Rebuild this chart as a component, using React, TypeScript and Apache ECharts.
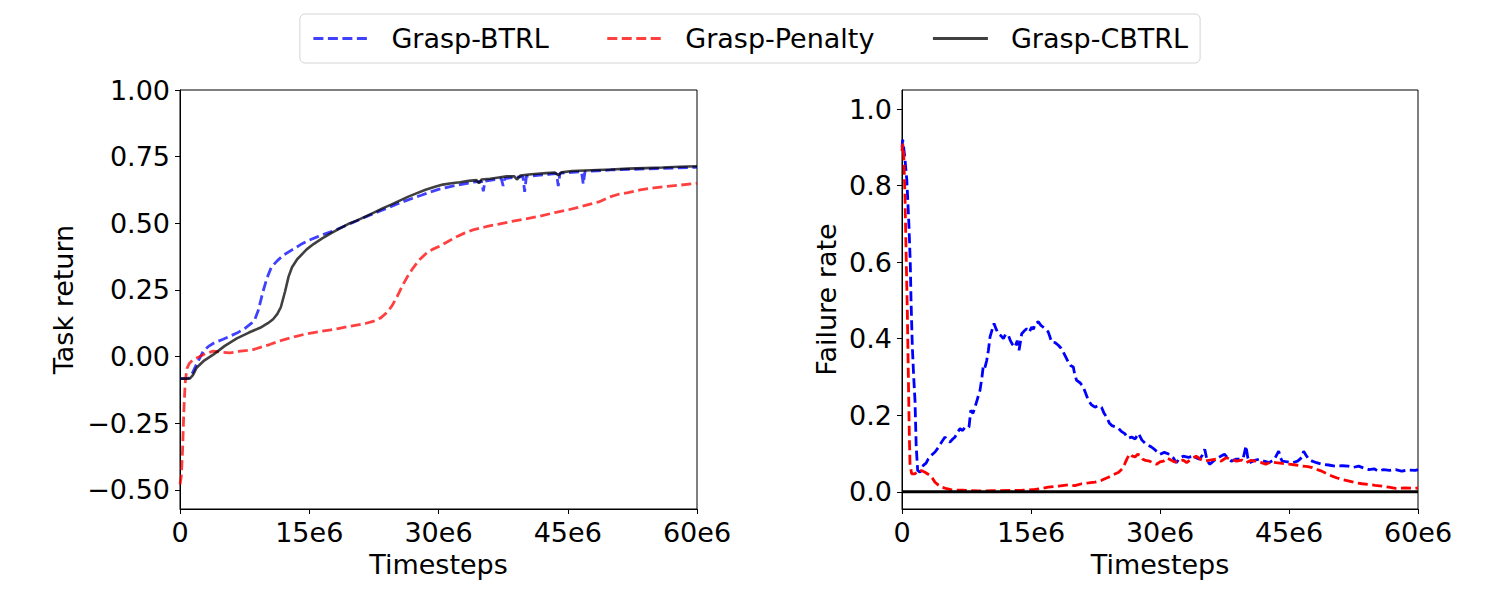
import React, { useEffect, useRef } from "react";
import * as echarts from "echarts";

const seriesNames = ["Grasp-BTRL", "Grasp-Penalty", "Grasp-CBTRL"];
const xTicks = [0, 15, 30, 45, 60];
const leftYTicks = [-0.5, -0.25, 0, 0.25, 0.5, 0.75, 1.0];
const rightYTicks = [0, 0.2, 0.4, 0.6, 0.8, 1.0];

// Task return (x in units of 1e6 timesteps)
const leftBtrl: [number, number][] = [
  [0, -0.083], [1.0, -0.082], [1.4, -0.065], [1.9, -0.03], [2.3, -0.005], [2.7, 0.02], [3.3, 0.038], [3.9, 0.05],
  [5.0, 0.065], [6.6, 0.088], [7.5, 0.105], [8.3, 0.125], [8.7, 0.14], [9.1, 0.175], [9.6, 0.24], [10.1, 0.295],
  [10.6, 0.335], [11.3, 0.36], [12.0, 0.38], [13.0, 0.4], [14.0, 0.42], [15.0, 0.437], [16.0, 0.45], [17.0, 0.462],
  [18.0, 0.474], [19.0, 0.488], [20.0, 0.502], [21.0, 0.516], [22.0, 0.53], [23.0, 0.543], [24.0, 0.556], [25.0, 0.57],
  [26.0, 0.582], [27.0, 0.594], [28.0, 0.605], [29.0, 0.617], [30.0, 0.627], [31.0, 0.635], [32.0, 0.642], [33.0, 0.648],
  [34.0, 0.654], [35.0, 0.657], [35.2, 0.62], [35.4, 0.658], [36.5, 0.664], [37.3, 0.667], [37.5, 0.64], [37.7, 0.668],
  [39.0, 0.673], [39.8, 0.675], [40.0, 0.618], [40.2, 0.676], [41.5, 0.68], [43.0, 0.684], [43.7, 0.686], [43.9, 0.64],
  [44.1, 0.688], [45.5, 0.691], [46.6, 0.693], [46.8, 0.647], [47.0, 0.694], [48.5, 0.697], [50, 0.7], [52, 0.702],
  [54, 0.704], [56, 0.706], [58, 0.708], [60, 0.71],
];
const leftPenalty: [number, number][] = [
  [0, -0.48], [0.15, -0.45], [0.3, -0.35], [0.45, -0.2], [0.6, -0.1], [0.8, -0.045], [1.1, -0.025], [1.6, -0.01],
  [2.3, 0.0], [3.0, 0.012], [3.9, 0.02], [4.8, 0.016], [5.8, 0.014], [6.8, 0.019], [7.8, 0.023], [8.5, 0.026],
  [9.5, 0.036], [10.4, 0.045], [11.5, 0.058], [12.5, 0.067], [13.5, 0.076], [14.5, 0.084], [15.5, 0.09], [16.5, 0.095],
  [17.5, 0.1], [18.5, 0.106], [19.5, 0.112], [20.5, 0.118], [21.5, 0.124], [22.5, 0.133], [23.3, 0.145], [24.0, 0.165],
  [24.6, 0.19], [25.2, 0.225], [25.8, 0.265], [26.4, 0.3], [27.0, 0.33], [27.7, 0.36], [28.5, 0.385], [29.3, 0.402],
  [30.2, 0.415], [31.0, 0.43], [32.0, 0.448], [33.0, 0.463], [34.0, 0.475], [35.5, 0.487], [37.0, 0.497], [38.5, 0.507],
  [40.0, 0.516], [41.8, 0.527], [43.5, 0.54], [45.0, 0.55], [46.5, 0.562], [47.6, 0.572], [48.6, 0.58], [49.3, 0.59],
  [50.0, 0.6], [50.8, 0.608], [52.0, 0.615], [53.4, 0.625], [55.0, 0.633], [56.5, 0.638], [58.0, 0.643], [60, 0.65],
];
const leftCbtrl: [number, number][] = [
  [0, -0.083], [0.6, -0.083], [1.16, -0.082], [1.5, -0.07], [1.93, -0.042], [2.8, -0.015], [3.9, 0.008], [5.2, 0.04],
  [6.6, 0.068], [8.0, 0.09], [9.3, 0.108], [10.2, 0.125], [10.8, 0.14], [11.3, 0.16], [11.7, 0.185], [12.2, 0.245],
  [12.6, 0.3], [13.0, 0.335], [13.6, 0.365], [14.7, 0.402], [15.5, 0.422], [16.5, 0.443], [17.5, 0.462], [18.5, 0.48],
  [19.5, 0.497], [20.5, 0.51], [21.5, 0.525], [22.5, 0.54], [23.5, 0.556], [24.5, 0.57], [25.5, 0.585], [26.5, 0.6],
  [27.5, 0.613], [28.5, 0.626], [29.5, 0.636], [30.5, 0.645], [31.5, 0.65], [32.5, 0.654], [33.5, 0.659], [34.4, 0.662],
  [34.7, 0.65], [35.0, 0.664], [36.0, 0.667], [37.0, 0.672], [37.9, 0.676], [38.8, 0.676], [39.1, 0.664], [39.5, 0.679],
  [40.5, 0.683], [41.5, 0.686], [42.5, 0.688], [43.5, 0.69], [43.9, 0.68], [44.3, 0.691], [45.5, 0.696], [47, 0.698],
  [48.5, 0.7], [50, 0.702], [52, 0.705], [54, 0.707], [56, 0.709], [58, 0.712], [60, 0.714],
];

// Failure rate
const rightBtrl: [number, number][] = [
  [0, 0.9], [0.08, 0.92], [0.3, 0.88], [0.56, 0.815], [0.8, 0.7], [0.96, 0.6], [1.05, 0.5], [1.2, 0.38], [1.36, 0.3],
  [1.51, 0.239], [1.65, 0.12], [1.82, 0.056], [2.09, 0.051], [2.48, 0.069], [2.8, 0.075], [3.06, 0.086], [3.4, 0.095],
  [3.84, 0.104], [4.2, 0.115], [4.61, 0.13], [5.0, 0.143], [5.3, 0.135], [5.58, 0.13], [5.9, 0.138], [6.16, 0.143],
  [6.45, 0.155], [6.75, 0.165], [7.05, 0.16], [7.33, 0.169], [7.79, 0.169], [8.0, 0.213], [8.25, 0.205], [8.49, 0.221],
  [8.8, 0.245], [9.07, 0.265], [9.3, 0.3], [9.46, 0.33], [9.65, 0.325], [9.85, 0.343], [10.05, 0.37], [10.24, 0.405],
  [10.5, 0.425], [10.7, 0.44], [10.95, 0.425], [11.2, 0.413], [11.5, 0.408], [11.79, 0.4], [12.05, 0.412], [12.37, 0.409],
  [12.6, 0.395], [12.85, 0.385], [13.14, 0.378], [13.4, 0.395], [13.61, 0.37], [13.92, 0.413], [14.2, 0.42], [14.5, 0.426],
  [14.8, 0.418], [15.08, 0.43], [15.3, 0.425], [15.47, 0.44], [15.86, 0.444], [16.15, 0.435], [16.44, 0.43], [16.7, 0.425],
  [17.0, 0.418], [17.2, 0.405], [17.4, 0.391], [17.8, 0.39], [18.18, 0.383], [18.5, 0.375], [18.76, 0.365], [19.05, 0.352],
  [19.34, 0.339], [19.6, 0.33], [19.92, 0.326], [20.1, 0.305], [20.31, 0.291], [20.7, 0.285], [21.08, 0.274], [21.4, 0.255],
  [21.67, 0.239], [22.0, 0.228], [22.44, 0.221], [22.8, 0.225], [23.2, 0.221], [23.5, 0.205], [23.8, 0.195], [24.1, 0.18],
  [24.4, 0.173], [24.8, 0.17], [25.2, 0.165], [25.5, 0.158], [25.9, 0.152], [26.3, 0.14], [26.7, 0.143], [27.1, 0.138],
  [27.5, 0.152], [27.9, 0.135], [28.3, 0.126], [28.6, 0.122], [29.0, 0.117], [29.4, 0.11], [30.0, 0.098], [30.5, 0.103],
  [31.1, 0.098], [31.5, 0.09], [31.9, 0.076], [32.3, 0.088], [32.7, 0.093], [33.3, 0.09], [33.9, 0.093], [34.3, 0.088],
  [34.6, 0.085], [34.9, 0.095], [35.2, 0.111], [35.5, 0.08], [35.8, 0.072], [36.2, 0.08], [36.5, 0.085], [37.0, 0.092],
  [37.5, 0.098], [37.9, 0.088], [38.3, 0.08], [38.8, 0.085], [39.3, 0.085], [39.7, 0.09], [40.0, 0.12], [40.2, 0.09],
  [40.4, 0.076], [41.0, 0.082], [41.5, 0.085], [42.1, 0.08], [42.7, 0.076], [43.3, 0.085], [43.8, 0.106], [44.0, 0.09],
  [44.2, 0.08], [44.8, 0.078], [45.4, 0.076], [46.0, 0.08], [46.5, 0.09], [46.7, 0.106], [47.0, 0.095], [47.3, 0.085],
  [47.7, 0.08], [48.2, 0.076], [48.8, 0.072], [49.6, 0.07], [50.4, 0.067], [51.2, 0.068], [51.9, 0.067], [52.5, 0.064],
  [53.1, 0.067], [53.7, 0.062], [54.3, 0.058], [54.9, 0.06], [55.4, 0.054], [56.0, 0.058], [56.7, 0.056], [57.4, 0.058],
  [58.1, 0.054], [58.9, 0.057], [59.7, 0.056], [60, 0.058],
];
const rightPenalty: [number, number][] = [
  [0, 0.89], [0.08, 0.91], [0.2, 0.88], [0.35, 0.77], [0.5, 0.6], [0.62, 0.47], [0.74, 0.3], [0.85, 0.15], [0.93, 0.073],
  [1.12, 0.047], [1.51, 0.047], [1.9, 0.056], [2.3, 0.055], [2.67, 0.051], [3.26, 0.043], [3.55, 0.035], [3.84, 0.025],
  [4.2, 0.018], [4.61, 0.012], [5.2, 0.008], [5.78, 0.005], [7, 0.004], [8.88, 0.002], [10.5, 0.003], [12.76, 0.0035],
  [14, 0.004], [15.47, 0.006], [16.3, 0.009], [17.0, 0.012], [18.2, 0.015], [19.34, 0.018], [20.1, 0.016], [20.9, 0.021],
  [21.7, 0.023], [22.44, 0.025], [23.2, 0.03], [24.0, 0.038], [24.6, 0.045], [25.2, 0.051], [25.6, 0.06], [25.9, 0.073],
  [26.2, 0.088], [26.5, 0.099], [26.8, 0.093], [27.1, 0.091], [27.4, 0.098], [27.7, 0.095], [28.0, 0.085], [28.3, 0.082],
  [28.8, 0.08], [29.2, 0.075], [29.6, 0.072], [30.0, 0.078], [30.4, 0.08], [30.8, 0.088], [31.1, 0.085], [31.7, 0.078],
  [32.3, 0.08], [32.7, 0.083], [33.1, 0.076], [33.6, 0.085], [34.2, 0.093], [34.7, 0.085], [35.2, 0.08], [35.8, 0.083],
  [36.5, 0.085], [37.1, 0.08], [37.7, 0.089], [38.3, 0.085], [38.9, 0.08], [39.5, 0.083], [40.0, 0.076], [40.6, 0.082],
  [41.1, 0.08], [41.7, 0.077], [42.3, 0.072], [42.9, 0.078], [43.5, 0.076], [44.2, 0.074], [45.0, 0.072], [45.8, 0.07],
  [46.6, 0.067], [47.2, 0.066], [47.7, 0.063], [48.3, 0.058], [48.8, 0.054], [49.4, 0.047], [50.0, 0.041], [50.6, 0.036],
  [51.2, 0.032], [52.0, 0.028], [52.7, 0.024], [53.5, 0.021], [54.3, 0.019], [55.0, 0.017], [55.8, 0.015], [56.6, 0.012],
  [57.4, 0.009], [58.5, 0.01], [59.7, 0.009], [60, 0.01],
];
const rightCbtrl: [number, number][] = [
  [0, 0], [60, 0],
];

const FONT = "DejaVu Sans";
const DASH = [10, 4.5];

function makeXAxis(gridIndex: number) {
  return {
    type: "value",
    gridIndex,
    min: 0,
    max: 60,
    interval: 15,
    name: "Timesteps",
    nameLocation: "middle",
    nameGap: 42,
    nameTextStyle: { fontSize: 27, fontFamily: FONT, color: "#000" },
    axisLine: { show: true, onZero: false, lineStyle: { color: "#000", width: 1 } },
    axisTick: { show: true, length: 5, lineStyle: { color: "#000", width: 1 } },
    axisLabel: {
      fontSize: 27,
      fontFamily: FONT,
      color: "#000",
      margin: 10,
      showMinLabel: true,
      showMaxLabel: true,
      customValues: xTicks,
      formatter: (v: number) => (v === 0 ? "0" : `${v}e6`),
    },
    splitLine: { show: false },
  };
}

export default function App() {
  const ref = useRef<HTMLDivElement>(null);
  useEffect(() => {
    if (!ref.current) return;
    const chart = echarts.init(ref.current, null, { renderer: "svg" });
    const option = {
      animation: false,
      backgroundColor: "#fff",
      legend: {
        data: seriesNames,
        top: 14,
        left: "center",
        orient: "horizontal",
        itemWidth: 55,
        itemHeight: 14,
        itemGap: 57,
        padding: [11, 12],
        borderColor: "#d4d4d4",
        borderWidth: 1,
        borderRadius: 5,
        itemStyle: { opacity: 0 },
        lineStyle: { width: 3 },
        textStyle: { fontSize: 27, fontFamily: FONT, color: "#000", padding: [0, 0, 0, 18] },
      },
      grid: [
        { left: 180, top: 90, width: 517, height: 419, show: true, borderColor: "#000", borderWidth: 1, backgroundColor: "transparent" },
        { left: 902, top: 90, width: 516, height: 419, show: true, borderColor: "#000", borderWidth: 1, backgroundColor: "transparent" },
      ],
      xAxis: [makeXAxis(0), makeXAxis(1)],
      yAxis: [
        {
          type: "value",
          gridIndex: 0,
          min: -0.572,
          max: 1.0,
          name: "Task return",
          nameLocation: "middle",
          nameGap: 103,
          nameTextStyle: { fontSize: 27, fontFamily: FONT, color: "#000" },
          axisLine: { show: true, onZero: false, lineStyle: { color: "#000", width: 1 } },
          axisTick: { show: true, length: 5, lineStyle: { color: "#000", width: 1 }, customValues: leftYTicks },
          axisLabel: {
            fontSize: 27,
            fontFamily: FONT,
            color: "#000",
            margin: 10,
            customValues: leftYTicks,
            formatter: (v: number) => v.toFixed(2).replace("-", "\u2212"),
          },
          splitLine: { show: false },
        },
        {
          type: "value",
          gridIndex: 1,
          min: -0.045,
          max: 1.05,
          name: "Failure rate",
          nameLocation: "middle",
          nameGap: 62,
          nameTextStyle: { fontSize: 27, fontFamily: FONT, color: "#000" },
          axisLine: { show: true, onZero: false, lineStyle: { color: "#000", width: 1 } },
          axisTick: { show: true, length: 5, lineStyle: { color: "#000", width: 1 }, customValues: rightYTicks },
          axisLabel: {
            fontSize: 27,
            fontFamily: FONT,
            color: "#000",
            margin: 10,
            customValues: rightYTicks,
            formatter: (v: number) => v.toFixed(1),
          },
          splitLine: { show: false },
        },
      ],
      series: [
        {
          name: seriesNames[0], type: "line", xAxisIndex: 0, yAxisIndex: 0, data: leftBtrl,
          symbol: "none", color: "rgba(0,0,255,0.75)",
          lineStyle: { color: "rgba(0,0,255,0.75)", width: 2.8, type: DASH },
        },
        {
          name: seriesNames[1], type: "line", xAxisIndex: 0, yAxisIndex: 0, data: leftPenalty,
          symbol: "none", color: "rgba(255,0,0,0.75)",
          lineStyle: { color: "rgba(255,0,0,0.75)", width: 2.8, type: DASH },
        },
        {
          name: seriesNames[2], type: "line", xAxisIndex: 0, yAxisIndex: 0, data: leftCbtrl,
          symbol: "none", color: "rgba(0,0,0,0.75)",
          lineStyle: { color: "rgba(0,0,0,0.75)", width: 2.6, type: "solid" },
        },
        {
          name: seriesNames[0], type: "line", xAxisIndex: 1, yAxisIndex: 1, data: rightBtrl,
          symbol: "none", color: "#0000ff",
          lineStyle: { color: "#0000ff", width: 2.8, type: DASH },
        },
        {
          name: seriesNames[1], type: "line", xAxisIndex: 1, yAxisIndex: 1, data: rightPenalty,
          symbol: "none", color: "#ff0000",
          lineStyle: { color: "#ff0000", width: 2.8, type: DASH },
        },
        {
          name: seriesNames[2], type: "line", xAxisIndex: 1, yAxisIndex: 1, data: rightCbtrl,
          symbol: "none", color: "#000000",
          lineStyle: { color: "#000000", width: 3, type: "solid" },
        },
      ],
    };
    chart.setOption(option as any);
    return () => chart.dispose();
  }, []);
  return (
    <div
      ref={ref}
      style={{ position: "absolute", left: 0, top: 0, width: 1500, height: 600, background: "#fff" }}
    />
  );
}
